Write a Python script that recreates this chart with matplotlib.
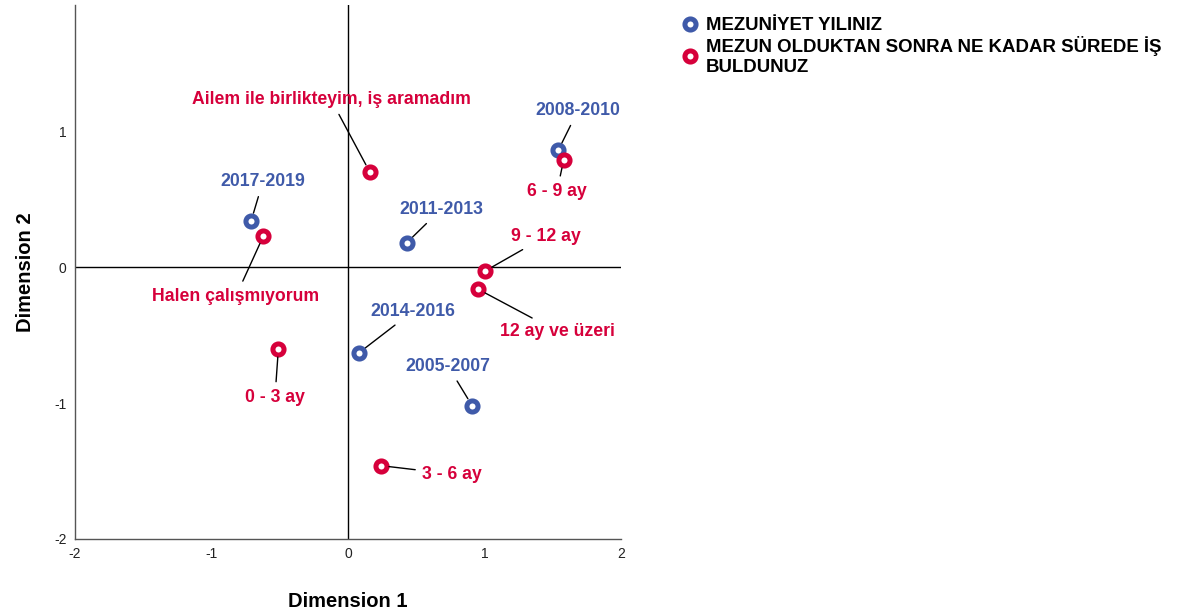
import matplotlib
matplotlib.use('Agg')
import matplotlib.pyplot as plt
from matplotlib.lines import Line2D

plt.rcParams['font.family'] = ['Liberation Sans', 'DejaVu Sans']
plt.rcParams['axes.unicode_minus'] = False

BLUE = '#3f5aa9'
RED = '#d6003b'

# MEZUNIYET YILINIZ (graduation year) category points
year_labels = ['2008-2010', '2017-2019', '2011-2013', '2014-2016', '2005-2007']
year_x = [1.54, -0.71, 0.43, 0.08, 0.91]
year_y = [0.86, 0.34, 0.18, -0.63, -1.02]
year_tx = [1.685, -0.623, 0.681, 0.476, 0.733]
year_ty = [1.154, 0.632, 0.426, -0.324, -0.728]

# time-to-job category points
job_labels = ['6 - 9 ay', 'Ailem ile birlikteyim, iş aramadım', 'Halen çalışmıyorum',
              '9 - 12 ay', '12 ay ve üzeri', '0 - 3 ay', '3 - 6 ay']
job_x = [1.58, 0.16, -0.62, 1.00, 0.95, -0.51, 0.24]
job_y = [0.79, 0.70, 0.23, -0.03, -0.16, -0.60, -1.46]
job_tx = [1.531, -0.125, -0.821, 1.451, 1.531, -0.535, 0.762]
job_ty = [0.559, 1.235, -0.213, 0.228, -0.471, -0.956, -1.522]

fig = plt.figure(figsize=(11.8, 6.14), dpi=100)
ax = fig.add_axes([75 / 1180, 75 / 614, 546 / 1180, 534 / 614])

ax.axhline(0, color='black', lw=1, zorder=1)
ax.axvline(0, color='black', lw=1, zorder=1)

def draw(xs, ys, txs, tys, labels, color):
    for x, y, tx, ty, lab in zip(xs, ys, txs, tys, labels):
        ax.annotate(lab, xy=(x, y), xytext=(tx, ty), ha='center', va='center',
                    color=color, fontsize=12.7, fontweight='bold', zorder=4,
                    arrowprops=dict(arrowstyle='-', color='black', lw=1,
                                    shrinkA=3, shrinkB=6))
    ax.plot(xs, ys, 'o', ls='none', ms=8, mfc='white', mec=color, mew=3.6, zorder=3)

draw(year_x, year_y, year_tx, year_ty, year_labels, BLUE)
draw(job_x, job_y, job_tx, job_ty, job_labels, RED)

ax.set_xlim(-2, 2)
ax.set_ylim(-2, 1.93)
ax.set_xticks([-2, -1, 0, 1, 2])
ax.set_yticks([-2, -1, 0, 1])
ax.tick_params(length=0, labelsize=10, colors='#222222', pad=6)
for s in ['top', 'right']:
    ax.spines[s].set_visible(False)
for s in ['left', 'bottom']:
    ax.spines[s].set_color('#555555')
    ax.spines[s].set_linewidth(1)

ax.set_xlabel('Dimension 1', fontsize=14.5, fontweight='bold', labelpad=22)
ax.set_ylabel('Dimension 2', fontsize=14.5, fontweight='bold', labelpad=14)

handles = [
    Line2D([], [], marker='o', ls='none', ms=8, mfc='white', mec=BLUE, mew=3.6),
    Line2D([], [], marker='o', ls='none', ms=8, mfc='white', mec=RED, mew=3.6),
]
fig.legend(handles, ['MEZUNİYET YILINIZ', 'MEZUN OLDUKTAN SONRA NE KADAR SÜREDE İŞ\nBULDUNUZ'],
           loc='upper left', bbox_to_anchor=(675 / 1180, 1 - 10 / 614), frameon=False,
           prop=dict(size=13.4, weight='bold'), handlelength=0.8, handletextpad=0.45,
           labelspacing=0.1, borderaxespad=0)

fig.savefig('out.png', dpi=100)
